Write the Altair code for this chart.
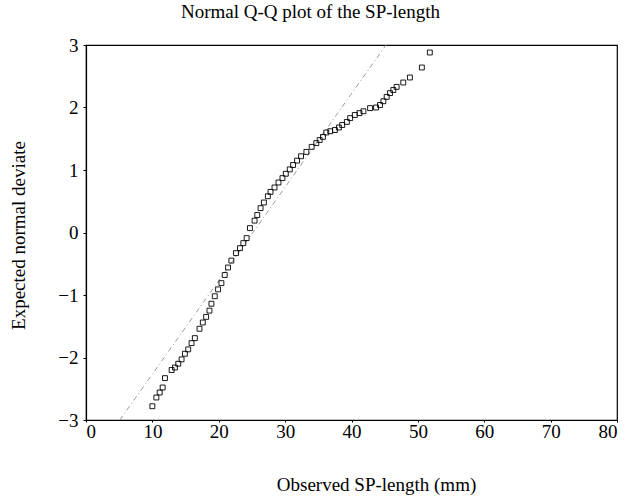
import altair as alt
import pandas as pd

# Observed SP-length (mm) and expected normal deviate
obs_len = [10.0, 10.6, 11.1, 11.55, 11.9, 12.9, 13.4, 13.9, 14.4, 14.9, 15.4, 15.9, 16.4,
           17.1, 17.6, 18.1, 18.6, 18.9, 19.4, 19.9, 20.4, 20.9, 21.4, 21.9, 22.6, 23.2,
           23.7, 24.2, 24.7, 25.4, 25.8, 26.3, 26.8, 27.4, 27.8, 28.4, 29.0, 29.6, 30.1,
           30.7, 31.2, 31.8, 32.4, 33.2, 34.0, 34.7, 35.2, 35.7, 36.2, 36.8, 37.5, 38.1,
           38.6, 39.3, 39.8, 40.5, 41.2, 41.8, 42.8, 43.7, 44.3, 44.8, 45.3, 45.8, 46.3,
           46.8, 47.8, 48.8, 50.6, 51.8]
exp_dev = [-2.78, -2.64, -2.56, -2.48, -2.33, -2.20, -2.16, -2.10, -2.03, -1.94, -1.87,
           -1.77, -1.69, -1.54, -1.44, -1.35, -1.25, -1.14, -1.02, -0.91, -0.81, -0.68,
           -0.56, -0.45, -0.33, -0.25, -0.17, -0.09, 0.07, 0.19, 0.28, 0.39, 0.48, 0.58,
           0.65, 0.72, 0.80, 0.87, 0.94, 1.01, 1.08, 1.15, 1.22, 1.29, 1.37, 1.43, 1.48,
           1.53, 1.60, 1.62, 1.64, 1.68, 1.72, 1.77, 1.83, 1.88, 1.91, 1.94, 1.99, 2.00,
           2.04, 2.10, 2.17, 2.23, 2.28, 2.33, 2.40, 2.48, 2.64, 2.88]

# Reference (normal) line end points
line_x = [5.1, 45.2]
line_y = [-3.0, 3.0]

x_ticks = [0, 10, 20, 30, 40, 50, 60, 70, 80]
y_ticks = [-3, -2, -1, 0, 1, 2, 3]

pts = pd.DataFrame({"x": obs_len, "y": exp_dev})
ref = pd.DataFrame({"x": line_x, "y": line_y})

FONT = "Liberation Serif"

x_enc = alt.X(
    "x:Q",
    scale=alt.Scale(domain=[0, 80], nice=False, zero=False),
    axis=alt.Axis(
        values=x_ticks, format="d", title="Observed SP-length (mm)", grid=False,
        titleX=290, titleY=70, titleBaseline="alphabetic", titleAlign="center",
        labelPadding=0, tickSize=2,
    ),
)
y_enc = alt.Y(
    "y:Q",
    scale=alt.Scale(domain=[-3, 3], nice=False, zero=False),
    axis=alt.Axis(
        values=y_ticks, format="d", title="Expected normal deviate", grid=False,
        titleX=-62, titleY=190, titleAngle=-90, titleAlign="center",
        titleBaseline="alphabetic", labelPadding=5, tickSize=3,
    ),
)

line = alt.Chart(ref).mark_line(
    color="#808080", strokeWidth=0.8, strokeDash=[5, 3, 1, 3], clip=True
).encode(x=x_enc, y=y_enc)

points = alt.Chart(pts).mark_point(
    shape="square", size=24, filled=False, color="black", strokeWidth=0.9, opacity=1
).encode(x="x:Q", y="y:Q")

chart = (
    alt.layer(line, points)
    .properties(
        width=531, height=375,
        background="white",
        title=alt.TitleParams(
            "Normal Q-Q plot of the SP-length", font=FONT, fontSize=19,
            fontWeight="normal", color="black", anchor="middle", dx=-41, offset=14,
        ),
        autosize=alt.AutoSizeParams(type="none"),
        padding={"left": 86, "top": 45, "right": 18, "bottom": 77},
    )
    .configure_view(stroke="black", strokeWidth=1.2)
    .configure_axis(
        labelFont=FONT, titleFont=FONT, labelFontSize=19, titleFontSize=19,
        titleFontWeight="normal", labelColor="black", titleColor="black",
        domainColor="black", tickColor="black", domainWidth=1.2,
    )
)

chart.save("out.html", embed_options={"renderer": "svg", "actions": False})
